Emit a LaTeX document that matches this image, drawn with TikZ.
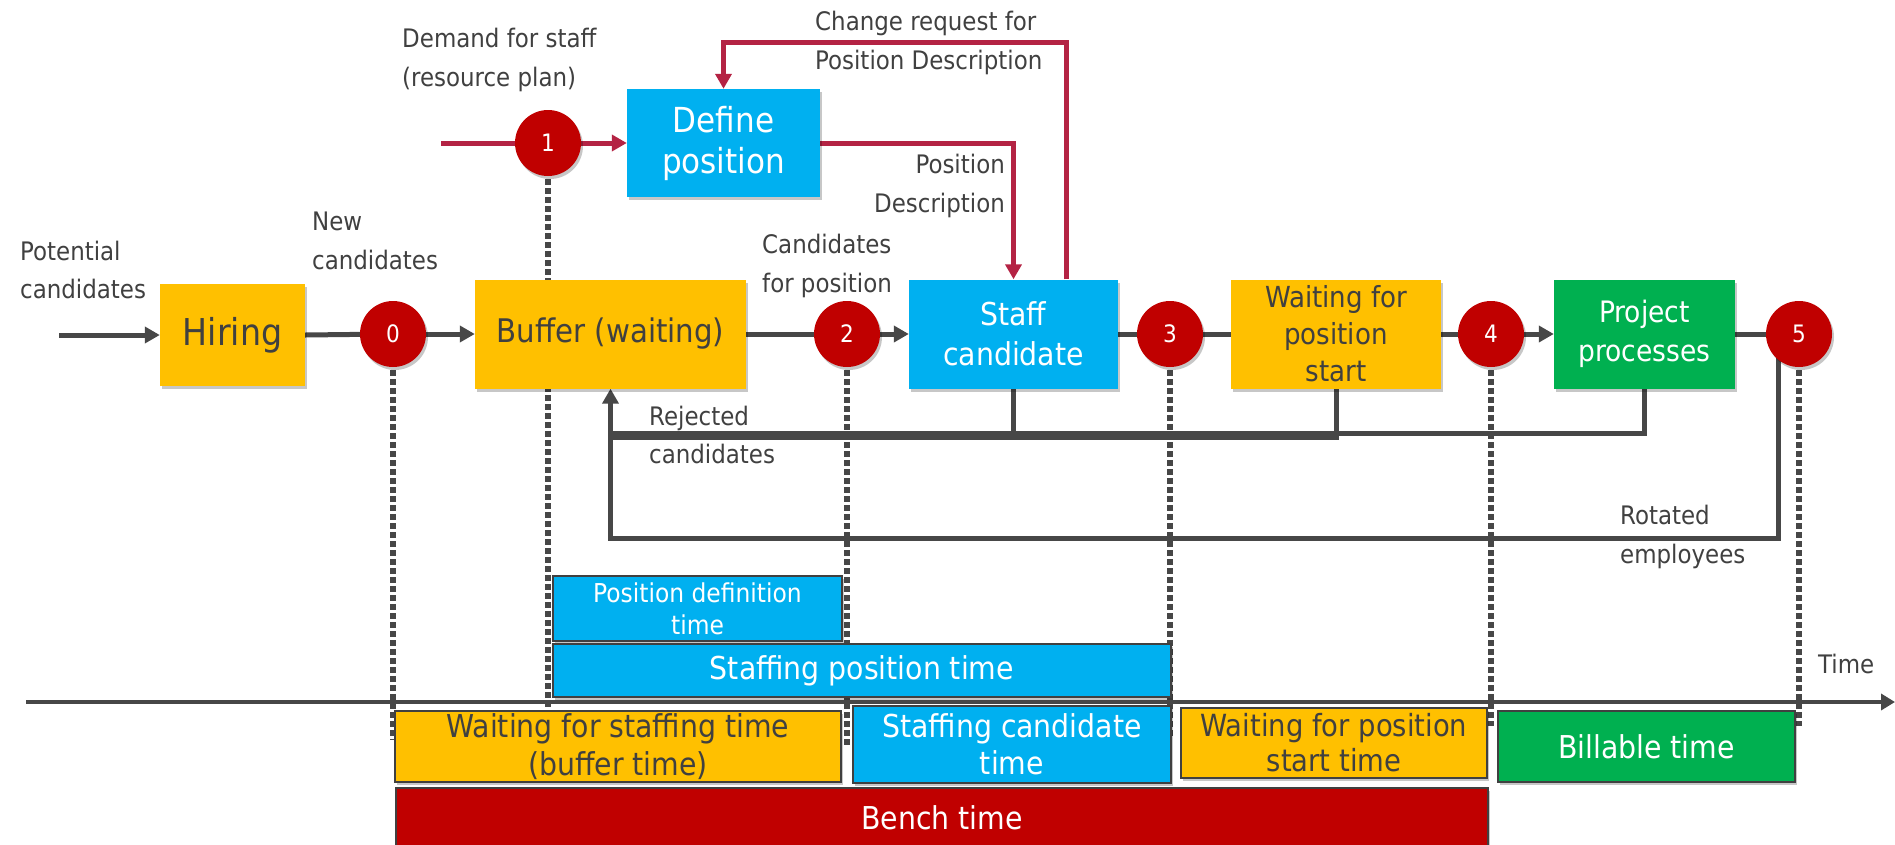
\documentclass[tikz,border=0pt]{standalone}
\usepackage{fontspec}
\setmainfont{DejaVu Sans Condensed}
\usetikzlibrary{arrows.meta,shadows}

\definecolor{cYellow}{HTML}{FFC000}
\definecolor{cBlue}{HTML}{00B0F0}
\definecolor{cGreen}{HTML}{00B050}
\definecolor{cRed}{HTML}{C00000}
\definecolor{cText}{HTML}{404040}
\definecolor{cLine}{HTML}{474747}
\definecolor{cCrimson}{RGB}{180,35,68}

\pgfdeclarelayer{bg}
\pgfsetlayers{bg,main}

\begin{document}
\begin{tikzpicture}[x=1pt,y=-1pt,
  shade/.style={drop shadow={shadow xshift=2pt,shadow yshift=-3pt,opacity=0.22,fill=black}},
  proc/.style={rectangle,inner sep=0pt,align=center,shade},
  yel/.style={fill=cYellow,text=cText},
  blu/.style={fill=cBlue,text=white},
  grn/.style={fill=cGreen,text=white},
  redbar/.style={fill=cRed,text=white},
  bar/.style={proc,draw=cText,line width=1.6pt},
  num/.style={circle,fill=cRed,text=white,minimum size=66pt,inner sep=0pt,
    font=\fontsize{24}{24}\selectfont,shade},
  lbl/.style={text=cText,inner sep=0pt,font=\fontsize{25.5}{38.5}\selectfont},
  conn/.style={draw=cLine,line width=5pt},
  rconn/.style={draw=cCrimson,line width=5pt},
  tip/.style={-{Triangle[length=15pt,width=16pt]}},
  dots/.style={draw=cLine,line width=5.5pt,dash pattern=on 5.5pt off 3.5pt},
  axis/.style={draw=cLine,line width=4pt,-{Triangle[length=14pt,width=16pt]}}]

\useasboundingbox (0,0) rectangle (1895,844);

% process boxes
\node[proc,yel,minimum width=145pt,minimum height=102pt,font=\fontsize{37}{40}\selectfont] (hiring) at (232.5,335) {Hiring};
\node[proc,yel,minimum width=271pt,minimum height=109pt,font=\fontsize{32.5}{36}\selectfont] (buffer) at (610.5,334) {Buffer (waiting)};
\node[proc,blu,minimum width=193pt,minimum height=108pt,font=\fontsize{34.5}{41}\selectfont] (define) at (723.5,143) {Define\\position};
\node[proc,blu,minimum width=209pt,minimum height=109pt,font=\fontsize{31.5}{40}\selectfont] (staff) at (1013.5,334) {Staff\\candidate};
\node[proc,yel,minimum width=210pt,minimum height=109pt,font=\fontsize{29}{37}\selectfont] (wait) at (1336,334) {Waiting for\\position\\start};
\node[proc,grn,minimum width=181pt,minimum height=109pt,font=\fontsize{29.5}{39}\selectfont] (project) at (1644.5,334) {Project\\processes};

% milestones
\node[num] (c0) at (393,334) {0};
\node[num] (c1) at (548,143) {1};
\node[num] (c2) at (847,334) {2};
\node[num] (c3) at (1170,334) {3};
\node[num] (c4) at (1491,334) {4};
\node[num] (c5) at (1799,334) {5};

% time bars
\node[bar,blu,minimum width=289pt,minimum height=65pt,font=\fontsize{26}{32}\selectfont] (posdef) at (697.5,608.5) {Position definition\\time};
\node[bar,blu,minimum width=618pt,minimum height=53pt,font=\fontsize{31.5}{36}\selectfont] (staffpos) at (862,670.5) {Staffing position time};
\node[bar,yel,minimum width=446pt,minimum height=71pt,font=\fontsize{31.5}{38}\selectfont] (waitstaff) at (618,746.5) {Waiting for staffing time\\(buffer time)};
\node[bar,blu,minimum width=318pt,minimum height=77pt,font=\fontsize{31.5}{37}\selectfont] (staffcand) at (1012,744.5) {Staffing candidate\\time};
\node[bar,yel,minimum width=306pt,minimum height=70pt,font=\fontsize{30.5}{35}\selectfont] (waitstart) at (1334,743) {Waiting for position\\start time};
\node[bar,grn,minimum width=297pt,minimum height=71pt,font=\fontsize{31.5}{36}\selectfont] (billable) at (1646.5,746.5) {Billable time};
\node[bar,redbar,minimum width=1092pt,minimum height=60pt,font=\fontsize{31.5}{36}\selectfont] (bench) at (942,818) {Bench time};

% labels
\node[lbl,anchor=west,align=left] (lpot) at (20,270) {Potential\\candidates};
\node[lbl,anchor=west,align=left] (lnew) at (312,241) {New\\candidates};
\node[lbl,anchor=west,align=left] (ldem) at (402,60) {Demand for staff\\(resource plan)};
\node[lbl,anchor=west,align=left] (lchg) at (815,43) {Change request for\\Position Description};
\node[lbl,anchor=east,align=right] (lpd) at (1005,186) {Position\\Description};
\node[lbl,anchor=west,align=left] (lcand) at (762,266) {Candidates\\for position};
\node[lbl,anchor=west,align=left] (lrej) at (649,435) {Rejected\\candidates};
\node[lbl,anchor=west,align=left] (lrot) at (1620,537) {Rotated\\employees};
\node[lbl,anchor=west] (ltime) at (1818,664) {Time};

\coordinate (in) at (59,335);
\coordinate (demand) at (441,143);
\coordinate (rj) at (0,435);
\coordinate (rot) at (0,538);
\coordinate (t0) at (26,702);
\coordinate (t1) at (1895,702);

\begin{pgfonlayer}{bg}
  % milestone guides
  \draw[dots] (c0.center) -- ++(0,406);
  \draw[dots] (c1.center) -- ++(0,602);
  \draw[dots] (c2.center) -- ++(0,411);
  \draw[dots] (c3.center) -- ++(0,404);
  \draw[dots] (c4.center) -- ++(0,392);
  \draw[dots] (c5.center) -- ++(0,392);

  % time axis
  \draw[axis] (t0) -- (t1);

  % main flow
  \draw[conn,tip] (in) -- (hiring.west);
  \draw[conn] (hiring.east) -- (c0);
  \draw[conn,tip] (c0) -- (buffer.west);
  \draw[conn] (buffer.east) -- (c2);
  \draw[conn,tip] (c2) -- (staff.west);
  \draw[conn] (staff.east) -- (c3);
  \draw[conn] (c3) -- (wait.west);
  \draw[conn] (wait.east) -- (c4);
  \draw[conn,tip] (c4) -- (project.west);
  \draw[conn] (project.east) -- (c5);

  % position definition loop
  \draw[rconn] (demand) -- (c1);
  \draw[rconn,tip] (c1) -- (define.west);
  \draw[rconn,tip] (define.east) -| (staff.north);
  \draw[rconn,tip] ([xshift=52.5pt]staff.north) -- ++(0,-237) -| (define.north);

  % returns to the buffer
  \draw[conn] (staff.south) |- (buffer.south |- rj);
  \draw[conn] (wait.south) |- ([yshift=-2pt]buffer.south |- rj);
  \draw[conn] (project.south) |- ([yshift=2pt]buffer.south |- rj);
  \draw[conn,tip] ([xshift=-21pt]c5.center) |- (buffer.south |- rot) -- (buffer.south);
\end{pgfonlayer}
\end{tikzpicture}
\end{document}
